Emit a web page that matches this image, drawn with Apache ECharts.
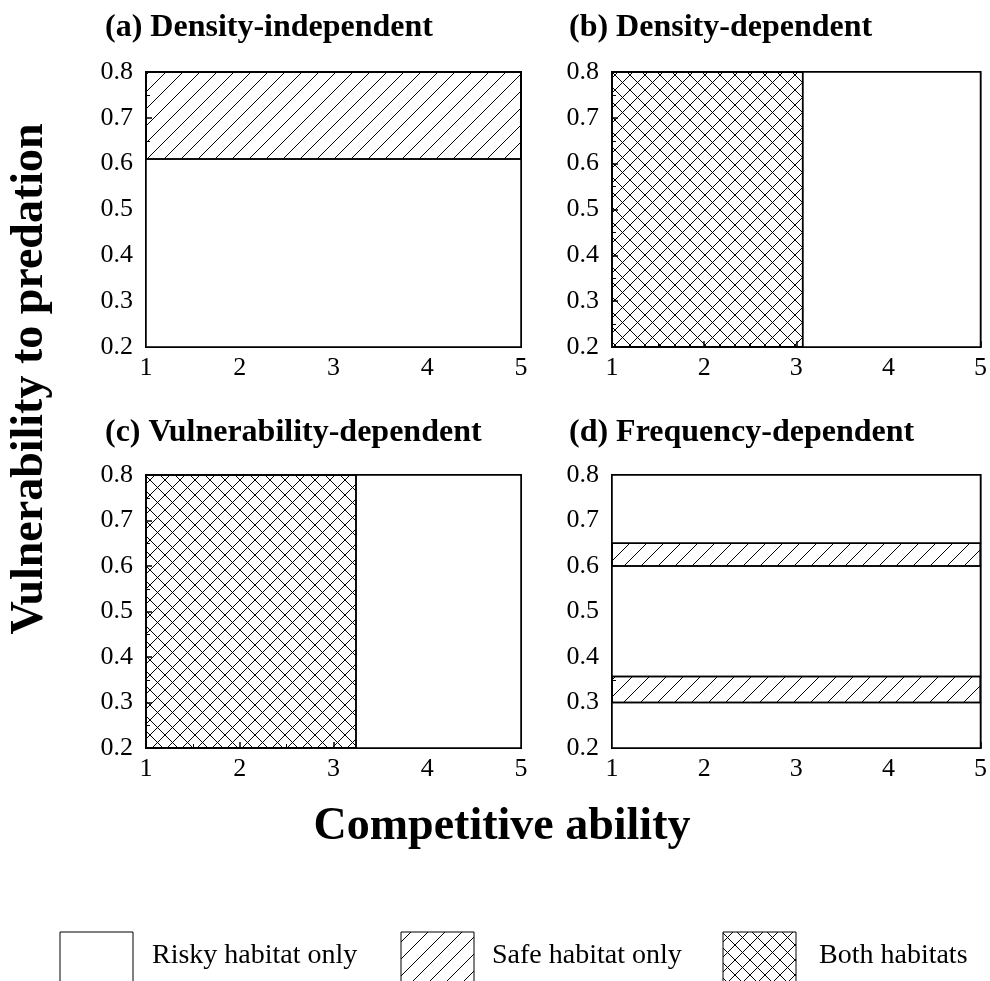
<!DOCTYPE html>
<html><head><meta charset="utf-8">
<script src="https://cdn.jsdelivr.net/npm/echarts@6/dist/echarts.min.js"></script>
<style>html,body{margin:0;padding:0;background:#fff}#c{width:990px;height:981px}</style>
</head><body><div id="c"></div>
<script>
// ---- data ----
const xTicks = [1, 2, 3, 4, 5];
const yTicks = [0.2, 0.3, 0.4, 0.5, 0.6, 0.7, 0.8];
const panelTitles = ['(a) Density-independent', '(b) Density-dependent', '(c) Vulnerability-dependent', '(d) Frequency-dependent'];
// regions: [xStart, xEnd, yLow, yHigh]
const safeA = [[1, 5, 0.61, 0.8]];
const riskyA = [[1, 5, 0.2, 0.61]];
const bothB = [[1, 3.07, 0.2, 0.8]];
const riskyB = [[3.07, 5, 0.2, 0.8]];
const bothC = [[1, 3.24, 0.2, 0.8]];
const riskyC = [[3.24, 5, 0.2, 0.8]];
const safeD = [[1, 5, 0.6, 0.65], [1, 5, 0.3, 0.357]];
const riskyD = [[1, 5, 0.2, 0.3], [1, 5, 0.357, 0.6], [1, 5, 0.65, 0.8]];
const legendLabels = ['Risky habitat only', 'Safe habitat only', 'Both habitats'];
const xName = 'Competitive ability';
const yName = 'Vulnerability to predation';

// ---- patterns ----
function makeHatch(size, cross) {
  const c = document.createElement('canvas');
  c.width = size; c.height = size;
  const g = c.getContext('2d');
  g.strokeStyle = '#000'; g.lineWidth = 1;
  g.beginPath();
  g.moveTo(-1, size + 1); g.lineTo(size + 1, -1);
  g.moveTo(-2, 2); g.lineTo(2, -2);
  g.moveTo(size - 2, size + 2); g.lineTo(size + 2, size - 2);
  if (cross) {
    g.moveTo(-1, -1); g.lineTo(size + 1, size + 1);
    g.moveTo(size - 2, -2); g.lineTo(size + 2, 2);
    g.moveTo(-2, size - 2); g.lineTo(2, size + 2);
  }
  g.stroke();
  return { type: 'pattern', image: c, repeat: 'repeat' };
}
const fills = {
  risky: '#ffffff',
  safe: makeHatch(17, false),
  both: makeHatch(15, true)
};

const FONT = "'Liberation Serif', 'DejaVu Serif', serif";
const grids = [
  { left: 146, top: 72, width: 375, height: 275 },
  { left: 612, top: 72, width: 371, height: 275 },
  { left: 146, top: 475, width: 375, height: 273 },
  { left: 612, top: 475, width: 371, height: 273 }
];

const xAxes = grids.map((g, i) => ({
  type: 'value', gridIndex: i, min: xTicks[0], max: xTicks[xTicks.length - 1], interval: 1,
  axisLine: { show: true, lineStyle: { color: '#000', width: 2 } },
  axisTick: { show: true, inside: true, length: 6, lineStyle: { color: '#000', width: 1.5 } },
  minorTick: { show: true, splitNumber: 2, length: 4, lineStyle: { color: '#000', width: 1 } },
  splitLine: { show: false },
  axisLabel: { color: '#000', fontFamily: FONT, fontSize: 26, margin: 8 }
}));
const yAxes = grids.map((g, i) => ({
  type: 'value', gridIndex: i, min: yTicks[0], max: yTicks[yTicks.length - 1], interval: 0.1,
  axisLine: { show: true, lineStyle: { color: '#000', width: 2 } },
  axisTick: { show: true, inside: true, length: 6, lineStyle: { color: '#000', width: 1.5 } },
  minorTick: { show: true, splitNumber: 2, length: 4, lineStyle: { color: '#000', width: 1 } },
  splitLine: { show: false },
  axisLabel: { color: '#000', fontFamily: FONT, fontSize: 26, margin: 13, formatter: v => v.toFixed(1) }
}));

function regionSeries(data, kind, gi) {
  return {
    type: 'custom', xAxisIndex: gi, yAxisIndex: gi, z: kind === 'risky' ? 1 : 2,
    encode: { x: [0, 1], y: [2, 3] },
    data: data,
    renderItem: function (params, api) {
      const p0 = api.coord([api.value(0), api.value(3)]);
      const p1 = api.coord([api.value(1), api.value(2)]);
      return {
        type: 'rect',
        shape: { x: p0[0], y: p0[1], width: p1[0] - p0[0], height: p1[1] - p0[1] },
        style: { fill: fills[kind], stroke: '#000', lineWidth: 1.5 }
      };
    }
  };
}

const series = [
  regionSeries(riskyA, 'risky', 0), regionSeries(safeA, 'safe', 0),
  regionSeries(riskyB, 'risky', 1), regionSeries(bothB, 'both', 1),
  regionSeries(riskyC, 'risky', 2), regionSeries(bothC, 'both', 2),
  regionSeries(riskyD, 'risky', 3), regionSeries(safeD, 'safe', 3)
];

const titlePos = [[105, 28], [569, 28], [105, 433], [569, 433]];
const graphics = panelTitles.map((t, i) => ({
  type: 'text', x: titlePos[i][0], y: titlePos[i][1],
  style: { text: t, font: "bold 32px " + FONT, fill: '#000', verticalAlign: 'middle' }
}));
graphics.push({
  type: 'text', x: 30, y: 379, rotation: Math.PI / 2,
  style: { text: yName, font: "bold 46px " + FONT, fill: '#000', align: 'center', verticalAlign: 'middle' }
});
graphics.push({
  type: 'text', x: 502, y: 827,
  style: { text: xName, font: "bold 46px " + FONT, fill: '#000', align: 'center', verticalAlign: 'middle' }
});
const legendBoxX = [60, 401, 723];
const legendTextX = [152, 492, 819];
const legendKinds = ['risky', 'safe', 'both'];
legendLabels.forEach((lab, i) => {
  graphics.push({
    type: 'rect', shape: { x: legendBoxX[i], y: 932, width: 73, height: 62 },
    style: { fill: fills[legendKinds[i]], stroke: '#000', lineWidth: 1 }
  });
  graphics.push({
    type: 'text', x: legendTextX[i], y: 956,
    style: { text: lab, font: "28px " + FONT, fill: '#000', verticalAlign: 'middle' }
  });
});

const chart = echarts.init(document.getElementById('c'), null, { renderer: 'canvas' });
chart.setOption({
  backgroundColor: '#fff',
  animation: false,
  grid: grids.map(g => Object.assign({ show: true, borderColor: '#000', borderWidth: 2, backgroundColor: 'transparent' }, g)),
  xAxis: xAxes,
  yAxis: yAxes,
  series: series,
  graphic: graphics
});
</script></body></html>
